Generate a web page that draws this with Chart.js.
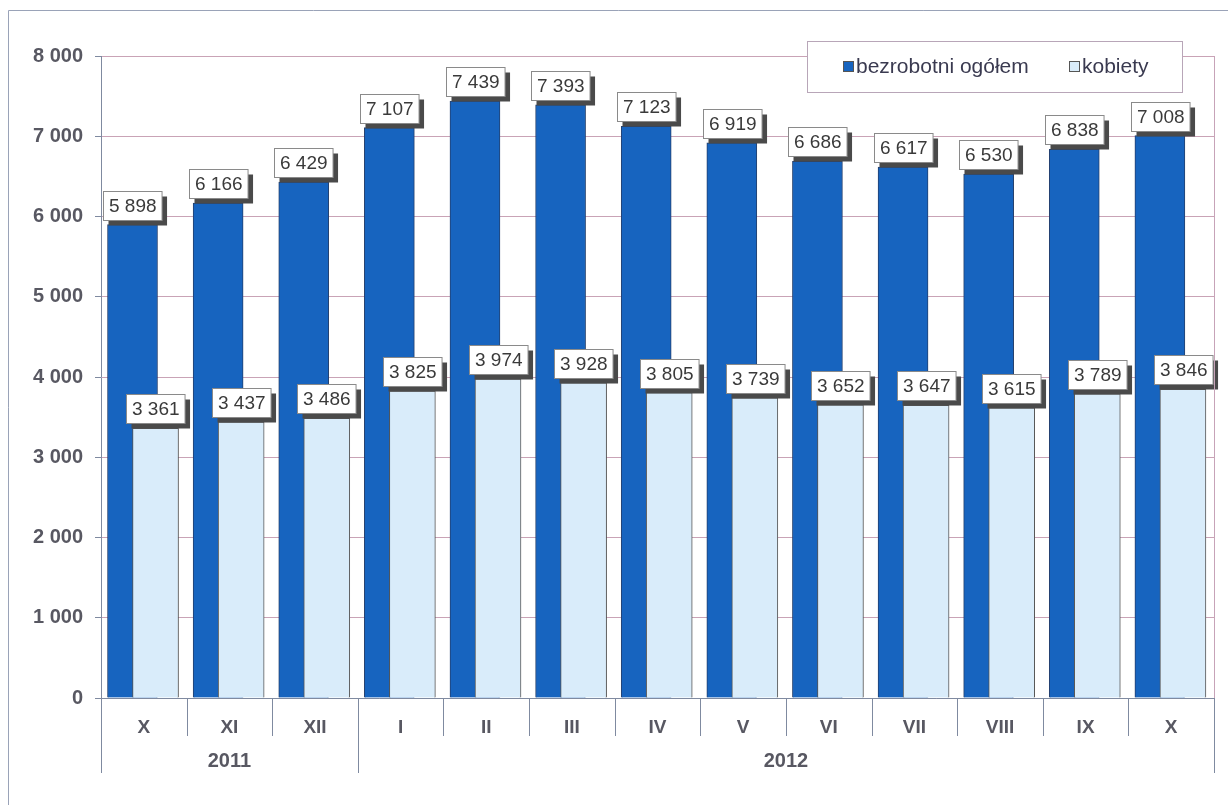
<!DOCTYPE html>
<html><head><meta charset="utf-8">
<script src="https://cdn.jsdelivr.net/npm/chart.js@4.4.1/dist/chart.umd.min.js"></script>
<style>html,body{margin:0;padding:0;background:#fff;}canvas{display:block;}</style>
</head><body>
<canvas id="c" width="1228" height="805"></canvas>
<script>
const months = ['X','XI','XII','I','II','III','IV','V','VI','VII','VIII','IX','X'];
const years = ['2011','2012'];
const yearSpans = [3, 10];
const seriesNames = ['bezrobotni ogółem', 'kobiety'];
const totalUnemployed = [5898, 6166, 6429, 7107, 7439, 7393, 7123, 6919, 6686, 6617, 6530, 6838, 7008];
const women = [3361, 3437, 3486, 3825, 3974, 3928, 3805, 3739, 3652, 3647, 3615, 3789, 3846];
const yMin = 0, yMax = 8000, yStep = 1000;

const FONT = "'Liberation Sans', Arial, sans-serif";
const DARK = '#1764bf';
const LIGHT = '#d9ecfa';
const fmt = v => String(v).replace(/\B(?=(\d{3})+(?!\d))/g, ' ');

const darkOffset = -0.132, lightOffset = 0.137;

const overlay = {
  id: 'overlay',
  afterDatasetsDraw(chart) {
    const ctx = chart.ctx;
    ctx.save();
    ctx.font = '19px ' + FONT;
    ctx.textAlign = 'center';
    ctx.textBaseline = 'middle';
    chart.data.datasets.forEach((ds, di) => {
      const meta = chart.getDatasetMeta(di);
      meta.data.forEach((bar, i) => {
        const txt = fmt(ds.data[i].y);
        const w = ctx.measureText(txt).width + 11;
        const h = 29;
        const x0 = Math.round(bar.x - w / 2) + 0.5;
        const y0 = Math.round(bar.y - 5 - h) + 0.5;
        ctx.fillStyle = '#4a4a4a';
        ctx.fillRect(x0 + 5, y0 + 5, w, h);
        ctx.fillStyle = '#ffffff';
        ctx.fillRect(x0, y0, w, h);
        ctx.strokeStyle = '#8a8a8a';
        ctx.lineWidth = 1;
        ctx.strokeRect(x0, y0, w, h);
        ctx.fillStyle = '#3a3a3a';
        ctx.fillText(txt, x0 + w / 2, y0 + h / 2 + 1);
      });
    });
    ctx.restore();
  },
  afterDraw(chart) {
    const ctx = chart.ctx;
    const a = chart.chartArea;
    const n = months.length;
    const cw = (a.right - a.left) / n;
    ctx.save();
    ctx.strokeStyle = '#9aa3b8';
    ctx.lineWidth = 1;
    ctx.beginPath();
    ctx.moveTo(8.5, 805); ctx.lineTo(8.5, 10.5); ctx.lineTo(1228, 10.5);
    ctx.stroke();
    ctx.strokeStyle = '#c7a3b8';
    ctx.beginPath();
    ctx.moveTo(Math.round(a.right) + 0.5, a.top);
    ctx.lineTo(Math.round(a.right) + 0.5, a.bottom);
    ctx.stroke();
    ctx.strokeStyle = '#7f8aa0';
    for (let i = 0; i <= n; i++) {
      const x = Math.round(a.left + i * cw) + 0.5;
      ctx.beginPath();
      ctx.moveTo(x, a.bottom);
      ctx.lineTo(x, a.bottom + 38);
      ctx.stroke();
    }
    let start = 0;
    ctx.font = 'bold 20px ' + FONT;
    ctx.fillStyle = '#585862';
    ctx.textAlign = 'center';
    ctx.textBaseline = 'middle';
    const bounds = [0];
    yearSpans.forEach(s => { start += s; bounds.push(start); });
    bounds.forEach(b => {
      const x = Math.round(a.left + b * cw) + 0.5;
      ctx.beginPath();
      ctx.moveTo(x, a.bottom);
      ctx.lineTo(x, a.bottom + 75);
      ctx.stroke();
    });
    years.forEach((y, k) => {
      const xc = a.left + (bounds[k] + bounds[k + 1]) / 2 * cw;
      ctx.fillText(y, xc, a.bottom + 63);
    });
    const lx = 807.5, ly = 41.5, lw = 375, lh = 51;
    ctx.fillStyle = '#ffffff';
    ctx.fillRect(lx, ly, lw, lh);
    ctx.strokeStyle = '#b8a6b8';
    ctx.strokeRect(lx, ly, lw, lh);
    ctx.font = '21px ' + FONT;
    ctx.textAlign = 'left';
    const items = [
      {x: 843, col: DARK, txt: seriesNames[0]},
      {x: 1069, col: LIGHT, txt: seriesNames[1]}
    ];
    items.forEach(it => {
      ctx.fillStyle = it.col;
      ctx.fillRect(it.x + 0.5, 61.5, 10, 10);
      ctx.strokeStyle = '#555';
      ctx.strokeRect(it.x + 0.5, 61.5, 10, 10);
      ctx.fillStyle = '#3a3a50';
      ctx.fillText(it.txt, it.x + 13, 67);
    });
    ctx.restore();
  }
};

new Chart(document.getElementById('c'), {
  type: 'bar',
  data: {
    labels: months,
    datasets: [
      {
        label: seriesNames[0],
        data: totalUnemployed.map((v, i) => ({x: i + darkOffset, y: v})),
        backgroundColor: DARK,
        borderColor: '#24406e',
        borderWidth: 1,
        barThickness: 50,
        grouped: false,
        xAxisID: 'xb',
        order: 2
      },
      {
        label: seriesNames[1],
        data: women.map((v, i) => ({x: i + lightOffset, y: v})),
        backgroundColor: LIGHT,
        borderColor: '#555555',
        borderWidth: 1,
        barThickness: 46,
        grouped: false,
        xAxisID: 'xb',
        order: 1
      }
    ]
  },
  options: {
    responsive: false,
    animation: false,
    devicePixelRatio: 1,
    layout: { padding: { left: 0, top: 56, right: 14, bottom: 0 } },
    plugins: { legend: { display: false }, tooltip: { enabled: false } },
    scales: {
      x: {
        type: 'category',
        labels: months,
        offset: true,
        grid: { display: false, drawTicks: false },
        border: { display: true, color: '#7f8aa0' },
        ticks: { color: '#585862', font: { family: FONT, size: 19, weight: 'bold' }, padding: 18, maxRotation: 0, autoSkip: false },
        afterFit(s) { s.height = 107; }
      },
      xb: {
        type: 'linear', display: false, min: -0.5, max: 12.5, offset: false, grid: { offset: false }
      },
      y: {
        min: yMin, max: yMax,
        ticks: { stepSize: yStep, color: '#585862', font: { family: FONT, size: 20, weight: 'bold' }, padding: 12, callback: v => fmt(v) },
        grid: { color: '#c9a3b6', tickLength: 6, tickColor: '#7f8aa0' },
        border: { display: true, color: '#7f8aa0' },
        afterFit(s) { s.width = 101; }
      }
    }
  },
  plugins: [overlay]
});
</script>
</body></html>
